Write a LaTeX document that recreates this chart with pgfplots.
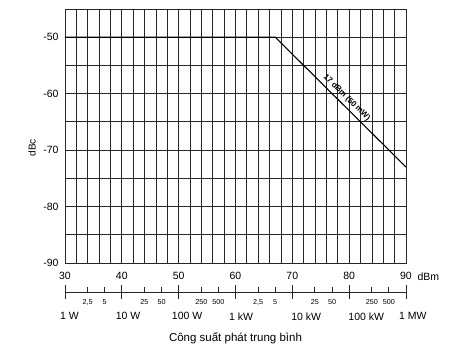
\documentclass[border=0pt]{standalone}
\usepackage{pgfplots}
\pgfplotsset{compat=1.18}
\usepackage{fontspec}
\setmainfont{Liberation Sans}
\begin{document}
\begin{tikzpicture}[x=1pt,y=1pt]
\useasboundingbox (-65,-91) rectangle (401,263);
\begin{axis}[
  at={(0,0)}, anchor=south west,
  scale only axis, width=341pt, height=254pt,
  xmin=30, xmax=90, ymin=-90, ymax=-45,
  clip=false,
  xtick={30,40,...,90}, xticklabels={30,40,50,60,70,80,90},
  minor xtick={32,34,36,38,42,44,46,48,52,54,56,58,62,64,66,68,72,74,76,78,82,84,86,88},
  ytick={-90,-80,...,-50}, yticklabels={-90,-80,-70,-60,-50},
  minor ytick={-85,-75,-65,-55,-45},
  grid=both,
  major grid style={black!85, line width=0.8pt},
  minor grid style={black!85, line width=0.8pt},
  major tick length=0pt, minor tick length=0pt,
  axis line style={black!85, line width=0.9pt},
  tick label style={font=\fontsize{10.5}{12}\selectfont},
  xticklabel style={yshift=-6pt},
  yticklabel style={xshift=-3pt},
  ylabel={dBc},
  ylabel style={at={(axis description cs:-0.0968,0.453)}, anchor=center, font=\fontsize{10}{12}\selectfont},
]
\addplot[black, line width=1.1pt] coordinates {(30,-50) (67,-50) (90,-73)};
\node[rotate=-44.8, anchor=south, font=\bfseries\fontsize{8}{9}\selectfont, inner sep=3.5pt] at (axis cs:78.65,-61.65) {17 dBm (50 mW)};
\node[anchor=west, font=\fontsize{10.5}{12}\selectfont] at ([xshift=8pt,yshift=-13.5pt]rel axis cs:1,0) {dBm};
\end{axis}
% power scale: major ticks and unit labels
\begin{axis}[
  at={(0,-29pt)}, anchor=south west,
  scale only axis, width=341pt, height=10pt,
  xmin=30, xmax=90, ymin=0, ymax=1,
  axis x line*=bottom, axis y line=none,
  axis line style={black!85, line width=0.9pt},
  xtick={30,40,...,90},
  xticklabels={\hspace*{2pt}1 W,\hspace*{1pt}10 W,\hspace*{0.3pt}100 W,\hspace*{0.5pt}1 kW,\hspace*{6pt}10 kW,\hspace*{6.3pt}100 kW,1 MW},
  major tick length=14pt, tick align=center,
  major tick style={black!85, line width=0.9pt},
  xticklabel style={font=\fontsize{10.5}{12}\selectfont, anchor=north west, xshift=-10.5pt, yshift=-10pt},
  xlabel={Công suất phát trung bình},
  xlabel style={font=\fontsize{11.5}{13}\selectfont, at={(axis description cs:0.5,0)}, anchor=center, yshift=-46pt},
]
\addplot[draw=none] coordinates {(30,0.5) (90,0.5)};
\end{axis}
% power scale: minor ticks and their labels
\begin{axis}[
  at={(0,-29pt)}, anchor=south west,
  scale only axis, width=341pt, height=10pt,
  xmin=30, xmax=90, ymin=0, ymax=1,
  axis x line*=bottom, axis y line=none,
  axis line style={draw=none},
  xtick={33.979,36.990,43.979,46.990,53.979,56.990,63.979,66.990,73.979,76.990,83.979,86.990},
  xticklabels={{2,5},5,25,50,250,500,{2,5},5,25,50,250,500},
  major tick length=5pt, tick align=inside,
  major tick style={black!85, line width=0.9pt},
  xticklabel style={font=\fontsize{7.2}{8}\selectfont, yshift=-4pt},
]
\addplot[draw=none] coordinates {(30,0.5) (90,0.5)};
\end{axis}
\end{tikzpicture}
\end{document}
